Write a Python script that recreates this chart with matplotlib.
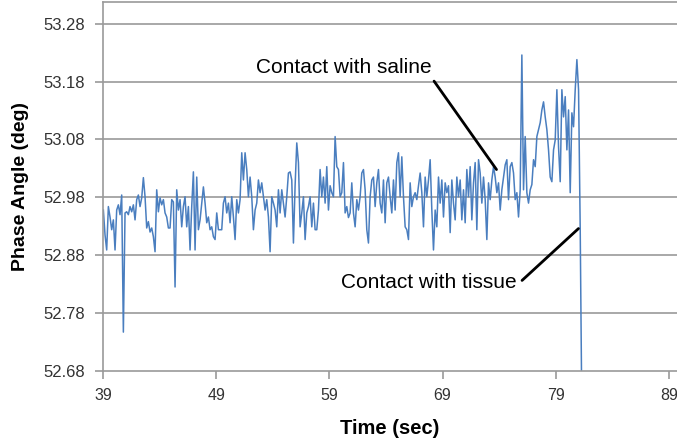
import numpy as np
import matplotlib.pyplot as plt

# phase angle readings (deg), sampled uniformly in time
phase = [
    # 39 - 45.5 s
    52.958, 52.915, 52.889, 52.964, 52.946, 52.924, 52.941, 52.889, 52.958, 52.967,
    52.950, 52.984, 52.747, 52.953, 52.955, 52.950, 52.964, 52.955, 52.967, 52.941,
    52.976, 52.984, 52.964, 52.979, 53.014, 52.981, 52.927, 52.938, 52.920, 52.927,
    52.912, 52.886, 52.993, 52.955, 52.979, 52.967, 52.976, 52.953, 52.946, 52.927,
    52.927, 52.976, 52.972, 52.825, 52.993,
    # 45.5 - 51 s
    52.958, 52.976, 52.929, 52.964, 52.981, 52.929, 52.964, 52.889, 52.964, 53.024,
    52.889, 53.015, 52.924, 52.941, 52.970, 52.998, 52.970, 52.936, 52.946, 52.924,
    52.929, 52.912, 52.907, 52.953, 52.924, 52.924, 52.924, 52.970, 52.981, 52.953,
    52.970, 52.936, 52.981, 52.946, 52.907, 52.976, 52.953, 52.976, 53.057,
    # 51 - 59.5 s
    53.010, 53.057, 53.028, 52.981, 53.015, 52.981, 52.924, 52.958, 52.970, 53.010,
    52.988, 53.005, 52.981, 52.958, 52.976, 52.946, 52.886, 52.981, 52.970, 52.958,
    52.929, 52.993, 52.953, 52.993, 52.970, 52.946, 52.981, 53.022, 53.024, 53.010,
    52.901, 53.000, 53.074, 53.040, 52.929, 52.953, 52.981, 52.907, 52.953, 52.964,
    52.981, 52.929, 52.970, 52.924, 52.924, 52.958, 53.028, 52.981, 53.015, 52.970,
    53.033, 52.958, 53.000, 52.988, 52.981, 53.085, 53.033,
    # 59.5 - 66.5 s
    53.028, 52.981, 52.988, 53.040, 52.953, 52.964, 52.945, 52.953, 53.005, 52.953,
    52.929, 52.976, 52.958, 52.981, 53.022, 53.028, 52.993, 52.924, 52.901, 52.981,
    53.010, 53.015, 52.964, 53.005, 53.028, 52.970, 52.953, 53.010, 52.936, 53.005,
    53.015, 52.981, 52.953, 53.010, 52.958, 53.040, 53.057, 52.981, 53.050, 52.981,
    52.929, 52.924, 52.907, 53.005, 52.964, 52.981, 52.988, 52.976,
    # 66.5 - 73.8 s
    53.000, 53.022, 52.988, 52.929, 53.015, 52.981, 53.010, 53.045, 52.958, 52.889,
    52.958, 52.929, 53.015, 52.970, 53.010, 52.946, 53.005, 52.988, 53.000, 52.919,
    53.010, 52.970, 52.941, 53.015, 52.981, 53.010, 52.941, 52.993, 52.936, 53.028,
    52.981, 53.033, 52.941, 53.005, 53.040, 52.924, 53.045, 53.022, 52.970, 53.015,
    52.976, 52.907, 53.005, 52.976, 53.010, 53.033, 53.015,
    # 73.8 - 81.3 s
    52.988, 53.005, 52.958, 52.993, 53.015, 53.036, 53.045, 52.976, 53.033, 53.040,
    53.022, 52.976, 52.988, 52.946, 52.993, 53.226, 52.993, 53.085, 52.988, 52.970,
    52.993, 53.002, 53.045, 53.033, 53.085, 53.097, 53.109, 53.131, 53.145, 53.119,
    53.097, 53.062, 53.015, 53.007, 53.062, 53.079, 53.166, 53.067, 53.007, 53.166,
    53.119, 53.154, 53.062, 53.131, 52.988, 53.126, 53.102, 53.166, 53.218, 53.166,
    52.924, 52.600,
]
time = np.linspace(39.04, 81.3, len(phase))

xticks = [39, 49, 59, 69, 79, 89]
yticks = [52.68, 52.78, 52.88, 52.98, 53.08, 53.18, 53.28]

font = ['Liberation Sans', 'DejaVu Sans']
grey = '#9a9a9a'

fig = plt.figure(figsize=(6.77, 4.41), dpi=100)
ax = fig.add_axes([0.152, 0.159, 0.848, 0.837])

ax.plot(time, phase, color='#4a7ebf', lw=1.1)

ax.set_xlim(39, 89.7)
ax.set_ylim(52.68, 53.318)
ax.set_xticks(xticks)
ax.set_yticks(yticks)
ax.set_yticklabels(['%.2f' % v for v in yticks])

for y in yticks[1:]:
    ax.axhline(y, color=grey, lw=1.2, zorder=0)

for s in ['left', 'bottom', 'top']:
    ax.spines[s].set_color(grey)
    ax.spines[s].set_linewidth(1.2)
ax.spines['right'].set_visible(False)

ax.tick_params(axis='both', direction='out', length=6, width=1.2, color=grey,
               labelcolor='#333333')
ax.tick_params(axis='x', pad=6)
ax.tick_params(axis='y', pad=7)
for lab in ax.get_yticklabels():
    lab.set_family(font)
    lab.set_fontsize(12)
for lab in ax.get_xticklabels():
    lab.set_family(font)
    lab.set_fontsize(11.5)

ax.set_xlabel('Time (sec)', family=font, fontsize=14.5, fontweight='bold', labelpad=12)
ax.set_ylabel('Phase Angle (deg)', family=font, fontsize=14, fontweight='bold', labelpad=10)

ax.annotate('Contact with saline', xy=(73.76, 53.028), xytext=(68.0, 53.204),
            ha='right', va='center', fontsize=15, family=font,
            arrowprops=dict(arrowstyle='-', color='black', lw=2, shrinkA=1, shrinkB=0,
                            relpos=(1.0, 0.0)))
ax.annotate('Contact with tissue', xy=(81.0, 52.926), xytext=(75.5, 52.832),
            ha='right', va='center', fontsize=15, family=font,
            arrowprops=dict(arrowstyle='-', color='black', lw=2, shrinkA=3, shrinkB=0,
                            relpos=(1.0, 0.35)))

fig.savefig('out.png', dpi=100)
